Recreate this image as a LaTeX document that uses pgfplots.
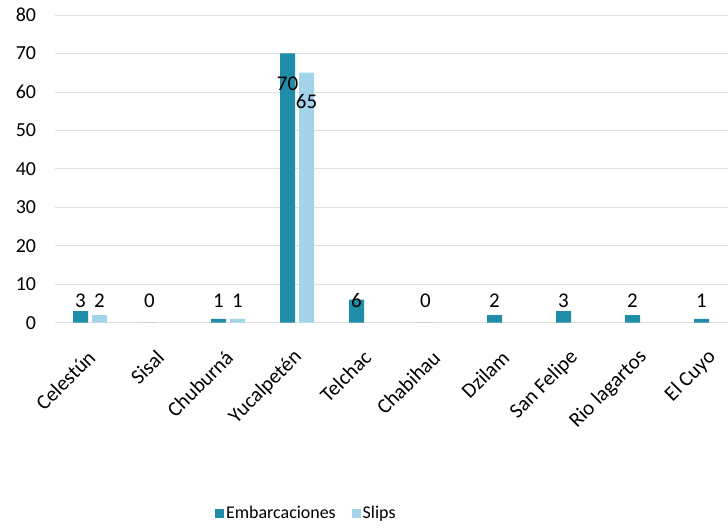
\documentclass[border=0pt]{standalone}
\usepackage{fontspec}
\setmainfont{Carlito}
\usepackage{pgfplots}
\pgfplotsset{compat=1.18}
\usepackage{pgfplotstable}
\definecolor{emb}{HTML}{1F8DA8}
\definecolor{slp}{HTML}{A3D4EA}

\pgfplotstableread{
x y ls
0 3 2.8
1 0 5.8
2 1 4.8
3 70 -7.8
4 6 -0.2
5 0 5.8
6 2 3.8
7 3 2.8
8 2 3.8
9 1 4.8
}\embtab

\pgfplotstableread{
x y ls
0 2 3.8
2 1 4.8
3 65 -7.5
}\slptab

\begin{document}
\begin{tikzpicture}[font=\fontsize{18}{21}\selectfont]
\path[use as bounding box] (-55.5bp,-206.3bp) rectangle (672.5bp,322.7bp);
\begin{axis}[
  at={(0,0)}, anchor=south west,
  scale only axis, width=672.5bp, height=307.7bp,
  xmin=-0.5, xmax=9.246, ymin=0, ymax=80,
  ybar=4bp, bar width=15bp,
  axis line style={draw=none},
  major tick length=0pt,
  ytick={0,10,...,80},
  ymajorgrids, grid style={gray!25, line width=0.8pt},
  xtick={0,...,9},
  xticklabels={Celestún, Sisal, Chuburná, Yucalpetén, Telchac, Chabihau, Dzilam, San Felipe, Rio lagartos, El Cuyo},
  xticklabel style={xshift=4bp, yshift=-29bp, rotate=45, anchor=east, font=\fontsize{21}{24}\selectfont},
  yticklabel style={anchor=east, xshift=-16bp, font=\fontsize{20}{24}\selectfont},
  /pgf/number format/assume math mode=true,
  nodes near coords,
  clip=false,
  legend style={at={(0.373,-0.62)}, anchor=center, draw=none, fill=none,
    legend columns=2, font=\fontsize{18}{21}\selectfont,
    /tikz/every even column/.append style={column sep=14bp}},
  legend image code/.code={\fill[#1,draw=none] (0bp,-4.5bp) rectangle (9bp,4.5bp);},
]
\addplot[fill=emb, draw=none,
  visualization depends on={\thisrow{ls} \as \ls},
  every node near coord/.append style={anchor=center, yshift={\ls*3.859pt}, text=black, font=\fontsize{21}{24}\selectfont}]
  table[x=x, y=y] {\embtab};
\addlegendentry{Embarcaciones}
\addplot[fill=slp, draw=none,
  visualization depends on={\thisrow{ls} \as \ls},
  every node near coord/.append style={anchor=center, yshift={\ls*3.859pt}, text=black, font=\fontsize{21}{24}\selectfont}]
  table[x=x, y=y] {\slptab};
\addlegendentry{Slips}
\end{axis}
\end{tikzpicture}
\end{document}
